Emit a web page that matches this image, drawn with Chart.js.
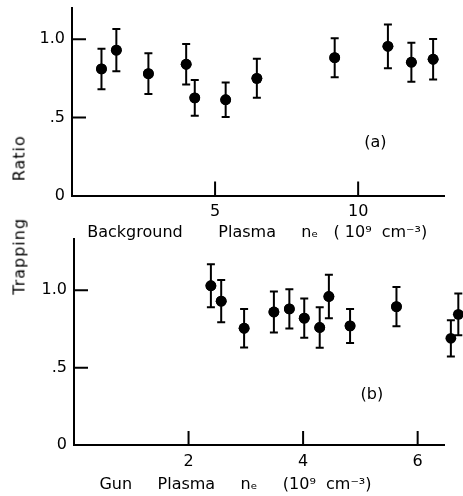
<!DOCTYPE html>
<html>
<head>
<meta charset="utf-8">
<script src="https://cdn.jsdelivr.net/npm/chart.js@4.4.1/dist/chart.umd.min.js"></script>
<style>
  html, body { margin: 0; padding: 0; background: #fff; }
  #wrap { position: relative; width: 463px; height: 496px; overflow: hidden; }
  canvas { position: absolute; left: 0; top: 0; }
  #ylabel {
    position: absolute; left: 19px; top: 215px;
    transform: translate(-50%, -50%) rotate(-90deg);
    font: 16px "DejaVu Sans"; color: #000; white-space: pre; letter-spacing: 1px;
  }
</style>
</head>
<body>
<div id="wrap">
  <canvas id="topChart" width="463" height="496"></canvas>
  <canvas id="botChart" width="463" height="496"></canvas>
  <div id="ylabel">Trapping      Ratio</div>
</div>
<script>
// panel (a): background plasma density
const bgX   = [1.03, 1.55, 2.67, 3.99, 4.29, 5.37, 6.46, 9.18, 11.04, 11.86, 12.62];
const bgY   = [0.81, 0.93, 0.78, 0.84, 0.625, 0.613, 0.75, 0.882, 0.955, 0.853, 0.872];
const bgErr = [0.13, 0.135, 0.13, 0.13, 0.115, 0.11, 0.125, 0.125, 0.14, 0.125, 0.13];

// panel (b): gun plasma density
const gunX   = [2.39, 2.57, 2.97, 3.49, 3.76, 4.02, 4.29, 4.45, 4.82, 5.63, 6.58, 6.71];
const gunY   = [1.03, 0.93, 0.755, 0.86, 0.88, 0.82, 0.76, 0.96, 0.77, 0.895, 0.69, 0.845];
const gunErr = [0.139, 0.137, 0.125, 0.133, 0.127, 0.127, 0.131, 0.14, 0.11, 0.127, 0.117, 0.135];

const yTickVals = [0, 0.5, 1.0];
const yTickLabels = ['0', '.5', '1.0'];
const bgXTicks = [5, 10];
const gunXTicks = [2, 4, 6];

const FONT = 'DejaVu Sans';

// error bars + inward tick marks + panel letter
const sketchPlugin = {
  id: 'sketch',
  afterDatasetsDraw(chart, args, opts) {
    const ctx = chart.ctx;
    const xs = chart.scales.x, ys = chart.scales.y;
    const area = chart.chartArea;
    // points past the end of the axis (the last ones in panel b) are skipped by
    // chart.js, so let the point elements draw again with the whole canvas as area
    const whole = { left: 0, top: 0, right: chart.width, bottom: chart.height };
    ctx.save();
    chart.getDatasetMeta(0).data.forEach((el) => el.draw(ctx, whole));
    ctx.restore();

    ctx.save();
    ctx.strokeStyle = '#000';
    ctx.lineWidth = 2;
    // error bars
    const pts = chart.data.datasets[0].data;
    pts.forEach((p) => {
      const px = xs.getPixelForValue(p.x);
      const top = ys.getPixelForValue(p.y + p.err);
      const bot = ys.getPixelForValue(p.y - p.err);
      ctx.beginPath();
      ctx.moveTo(px, top); ctx.lineTo(px, bot);
      ctx.moveTo(px - 4, top); ctx.lineTo(px + 4, top);
      ctx.moveTo(px - 4, bot); ctx.lineTo(px + 4, bot);
      ctx.stroke();
    });
    // inward ticks
    ctx.beginPath();
    xs.ticks.forEach((t) => {
      const px = xs.getPixelForValue(t.value);
      ctx.moveTo(px, area.bottom); ctx.lineTo(px, area.bottom - 14);
    });
    ys.ticks.forEach((t) => {
      if (t.value === 0) return;
      const py = ys.getPixelForValue(t.value);
      ctx.moveTo(area.left, py); ctx.lineTo(area.left + 14, py);
    });
    ctx.stroke();
    // panel label
    ctx.fillStyle = '#000';
    ctx.font = '16px "' + FONT + '"';
    ctx.textAlign = 'center';
    ctx.textBaseline = 'middle';
    ctx.fillText(opts.text, xs.getPixelForValue(opts.x), ys.getPixelForValue(opts.y));
    ctx.restore();
  }
};

function makeChart(id, xs, ys, errs, xTicks, xMax, yMax, title, pad, yWidth, xHeight, panel) {
  const pts = xs.map((x, i) => ({ x: x, y: ys[i], err: errs[i] }));
  return new Chart(document.getElementById(id), {
    type: 'scatter',
    data: {
      datasets: [{
        data: pts,
        pointRadius: 5.4,
        pointHoverRadius: 5.4,
        pointBackgroundColor: '#000',
        pointBorderColor: '#000',
        pointBorderWidth: 0,
        clip: false
      }]
    },
    options: {
      responsive: false,
      animation: false,
      events: [],
      layout: { padding: pad, autoPadding: false },
      plugins: {
        legend: { display: false },
        tooltip: { enabled: false },
        sketch: panel
      },
      scales: {
        x: {
          type: 'linear',
          min: 0, max: xMax,
          grid: { display: false, drawTicks: false },
          border: { display: true, color: '#000', width: 2 },
          afterBuildTicks: (s) => { s.ticks = xTicks.map(v => ({ value: v })); },
          afterFit: (s) => { s.height = xHeight; s.paddingLeft = 0; s.paddingRight = 0; },
          ticks: {
            color: '#000', padding: 7, maxRotation: 0,
            font: { family: FONT, size: 16 },
            callback: (v) => String(v)
          },
          title: {
            display: true, text: title, align: 'start', color: '#000',
            padding: { top: 0, bottom: 0 },
            font: { family: FONT, size: 16 }
          }
        },
        y: {
          type: 'linear',
          min: 0, max: yMax,
          grid: { display: false, drawTicks: false },
          border: { display: true, color: '#000', width: 2 },
          afterBuildTicks: (s) => { s.ticks = yTickVals.map(v => ({ value: v })); },
          afterFit: (s) => { s.width = yWidth; s.paddingTop = 0; s.paddingBottom = 0; },
          ticks: {
            color: '#000', padding: 7,
            font: { family: FONT, size: 16 },
            callback: (v) => yTickLabels[yTickVals.indexOf(v)]
          }
        }
      }
    },
    plugins: [sketchPlugin]
  });
}

makeChart('topChart', bgX, bgY, bgErr, bgXTicks, 13, 1.2,
  '   Background       Plasma     n\u2091   ( 10\u2079  cm\u207B\u00B3)',
  { left: 0, top: 8, right: 19, bottom: 253.4 }, 72, 47.1,
  { text: '(a)', x: 10.6, y: 0.335 });

makeChart('botChart', gunX, gunY, gunErr, gunXTicks, 6.46, 1.33,
  '     Gun     Plasma     n\u2091     (10\u2079  cm\u207B\u00B3)',
  { left: 0, top: 239.3, right: 19, bottom: 1.4 }, 74, 49.6,
  { text: '(b)', x: 5.2, y: 0.325 });
</script>
</body>
</html>
